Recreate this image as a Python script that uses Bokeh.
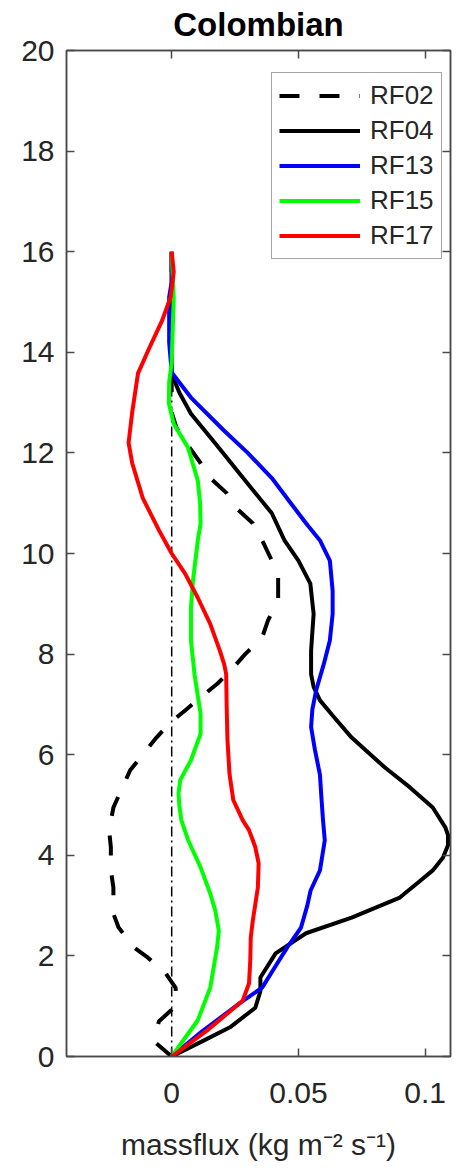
from bokeh.plotting import figure
from bokeh.models import LinearAxis, FixedTicker, Legend, LegendItem, Range1d, CustomLabelingPolicy
from bokeh.embed import file_html
from bokeh.resources import INLINE

# ---------------- data (height in km, massflux in kg m-2 s-1) ----------------
series_names = ["RF02", "RF04", "RF13", "RF15", "RF17"]

height_rf02 = [0, 0.26, 0.45, 0.7, 0.93, 1.15, 1.37, 1.65, 1.97, 2.17, 2.57, 2.84, 3.36, 3.7, 4.16,
               4.5, 4.95, 5.69, 6.34, 6.62, 6.88, 7.14, 7.41, 7.73, 8.0, 8.33, 8.67, 9.07, 9.52,
               9.86, 10.26, 10.6, 10.9, 11.2, 11.5, 11.8, 12.2, 12.5, 12.8, 16.0]
flux_rf02 = [0, -0.006, -0.0065, -0.005, 0.0, 0.002, 0.0015, -0.0023, -0.0095, -0.015, -0.021,
             -0.023, -0.023, -0.024, -0.024, -0.0247, -0.023, -0.0164, -0.006, -0.001, 0.0053,
             0.0114, 0.018, 0.0243, 0.029, 0.0357, 0.038, 0.042, 0.042, 0.0395, 0.0357, 0.032,
             0.0255, 0.0217, 0.0152, 0.0114, 0.0057, 0.0019, 0.0, 0.0]

height_rf04 = [0, 0.3, 0.58, 0.97, 1.3, 1.57, 2.05, 2.45, 2.76, 3.16, 3.45, 3.7, 3.95, 4.2, 4.4,
               4.55, 4.95, 5.35, 5.75, 6.34, 6.75, 7.08, 7.35, 7.6, 8.07, 8.8, 9.4, 9.86, 10.26,
               10.8, 11.6, 12.2, 12.78, 13.2, 13.57, 16.0]
flux_rf04 = [0, 0.012, 0.023, 0.033, 0.035, 0.035, 0.041, 0.053, 0.071, 0.090, 0.097, 0.103,
             0.107, 0.109, 0.109, 0.108, 0.103, 0.094, 0.084, 0.071, 0.064, 0.0585, 0.056, 0.055,
             0.055, 0.056, 0.0547, 0.050, 0.0445, 0.0395, 0.0266, 0.017, 0.0076, 0.003, 0.0, 0.0]

height_rf13 = [0, 0.5, 1.05, 1.37, 1.8, 2.17, 2.56, 3.0, 3.3, 3.7, 4.3, 4.7, 5.2, 5.6, 6.1, 6.55,
               6.9, 7.28, 7.8, 8.27, 8.8, 9.26, 9.86, 10.26, 10.6, 11.0, 11.5, 12.0, 12.45, 13.1,
               13.6, 14.2, 15.1, 15.4, 16.0]
flux_rf13 = [0, 0.012, 0.0266, 0.0357, 0.041, 0.0456, 0.051, 0.0535, 0.0548, 0.0585, 0.0604,
             0.0597, 0.059, 0.0585, 0.0565, 0.055, 0.0555, 0.057, 0.060, 0.0624, 0.0635, 0.0635,
             0.0624, 0.0585, 0.053, 0.047, 0.0395, 0.030, 0.0205, 0.0076, 0.0, -0.001, -0.001,
             0.0, 0.0]

height_rf15 = [0, 0.72, 1.37, 2.17, 2.5, 2.9, 3.24, 3.76, 4.3, 4.7, 5.0, 5.23, 5.5, 5.89, 6.42,
               6.82, 7.2, 7.6, 8.27, 8.93, 9.46, 10.26, 10.6, 11.0, 11.45, 12.1, 12.58, 12.98,
               13.4, 13.8, 15.1, 16.0]
flux_rf15 = [0, 0.0103, 0.0152, 0.0179, 0.0186, 0.0172, 0.0152, 0.0114, 0.0065, 0.0038, 0.003,
             0.0027, 0.0034, 0.0076, 0.0114, 0.0114, 0.0102, 0.009, 0.0076, 0.0076, 0.0084,
             0.0103, 0.0114, 0.0112, 0.0103, 0.0065, 0.0008, -0.0011, -0.001, 0.0, 0.0008, 0.0]

height_rf17 = [0, 0.52, 1.11, 1.45, 1.9, 2.37, 2.7, 3.36, 3.84, 4.16, 4.3, 4.5, 4.7, 5.1, 5.62,
               6.3, 6.94, 7.6, 7.8, 8.07, 8.6, 9.12, 9.6, 10.0, 10.46, 11.1, 11.8, 12.2, 12.8,
               13.58, 14.1, 14.63, 15.1, 15.6, 16.0]
flux_rf17 = [0, 0.014, 0.028, 0.0305, 0.031, 0.0312, 0.032, 0.034, 0.0343, 0.033, 0.032, 0.0305,
             0.028, 0.0243, 0.0228, 0.022, 0.0217, 0.0215, 0.0207, 0.019, 0.0152, 0.0103,
             0.0053, 0.0, -0.005, -0.0114, -0.0156, -0.017, -0.0156, -0.0133, -0.0087, -0.0038,
             -0.0004, 0.0008, 0.0]

zero_line_flux = [0, 0]
zero_line_height = [0, 16]

x_ticks = [0, 0.05, 0.1]
x_tick_labels = ["0", "0.05", "0.1"]
y_ticks = [0, 2, 4, 6, 8, 10, 12, 14, 16, 18, 20]

# ---------------- figure ----------------
FONT = "Liberation Sans"
AX_COL = "#4a4a4a"
TXT_COL = "#262626"

p = figure(width=454, height=1163,
           x_range=Range1d(-0.0415, 0.11), y_range=Range1d(0, 20),
           output_backend="svg", toolbar_location=None,
           min_border_left=66, min_border_right=1, min_border_top=49, min_border_bottom=100)
p.grid.visible = False
p.outline_line_color = AX_COL
p.outline_line_width = 1.5
p.background_fill_color = "white"
p.border_fill_color = "white"

p.title.text = "Colombian"
p.title.align = "center"
p.title.offset = 4
p.title.text_font = FONT
p.title.text_font_style = "bold"
p.title.text_font_size = "33px"
p.title.text_color = "black"
p.title.standoff = 7
p.title.text_line_height = 1.0

label_overrides = {t: l for t, l in zip(x_ticks, x_tick_labels)}
no_labels = CustomLabelingPolicy(code="""
    for (const i of Array.from(indices)) { indices.unset(i) }
    return indices
""")

def style_axis(ax, show_labels):
    ax.axis_line_color = AX_COL
    ax.axis_line_width = 1.5
    ax.major_tick_line_color = AX_COL
    ax.major_tick_line_width = 1.5
    ax.major_tick_in = 8
    ax.major_tick_out = 0
    ax.minor_tick_line_color = None
    ax.major_label_text_font = FONT
    ax.major_label_text_color = TXT_COL
    ax.major_label_text_line_height = 1.0
    if show_labels:
        ax.major_label_text_font_size = "30px"
    else:
        ax.major_label_text_font_size = "1px"
        ax.major_label_standoff = 0
        ax.major_label_policy = no_labels

xa = p.xaxis[0]
xa.ticker = FixedTicker(ticks=x_ticks)
xa.major_label_overrides = label_overrides
style_axis(xa, True)
xa.major_label_standoff = 26
xa.axis_label = "massflux (kg m\u207b\u00b2 s\u207b\u00b9)"
xa.axis_label_text_font = FONT
xa.axis_label_text_font_size = "30px"
xa.axis_label_text_font_style = "normal"
xa.axis_label_text_color = TXT_COL
xa.axis_label_text_line_height = 1.0
xa.axis_label_standoff = 22

ya = p.yaxis[0]
ya.ticker = FixedTicker(ticks=y_ticks)
style_axis(ya, True)
ya.major_label_standoff = 12

top_ax = LinearAxis(ticker=FixedTicker(ticks=x_ticks))
style_axis(top_ax, False)
p.add_layout(top_ax, "above")
right_ax = LinearAxis(ticker=FixedTicker(ticks=y_ticks))
style_axis(right_ax, False)
p.add_layout(right_ax, "right")

# zero reference line
p.line(zero_line_flux, zero_line_height, line_color="black", line_width=1.5, line_dash="10 4 2 4")

LW = 4
common = dict(line_width=LW, line_join="round", line_cap="butt")
r02 = p.line(flux_rf02, height_rf02, line_color="black", line_dash="20 20", **common)
r04 = p.line(flux_rf04, height_rf04, line_color="black", **common)
r13 = p.line(flux_rf13, height_rf13, line_color="#0000FF", **common)
r15 = p.line(flux_rf15, height_rf15, line_color="#00FF00", **common)
r17 = p.line(flux_rf17, height_rf17, line_color="#FF0000", **common)

items = [LegendItem(label=n, renderers=[r]) for n, r in zip(series_names, [r02, r04, r13, r15, r17])]
legend = Legend(items=items, location=(205, 797))
legend.label_text_font = FONT
legend.label_text_font_size = "26px"
legend.label_text_color = TXT_COL
legend.glyph_width = 81
legend.glyph_height = 31
legend.label_height = 31
legend.label_standoff = 10
legend.spacing = 4
legend.padding = 7
legend.margin = 0
legend.border_line_color = AX_COL
legend.border_line_width = 1.5
legend.background_fill_color = "white"
legend.background_fill_alpha = 1.0
p.add_layout(legend, "center")

open("out.html", "w").write(file_html(p, INLINE))
